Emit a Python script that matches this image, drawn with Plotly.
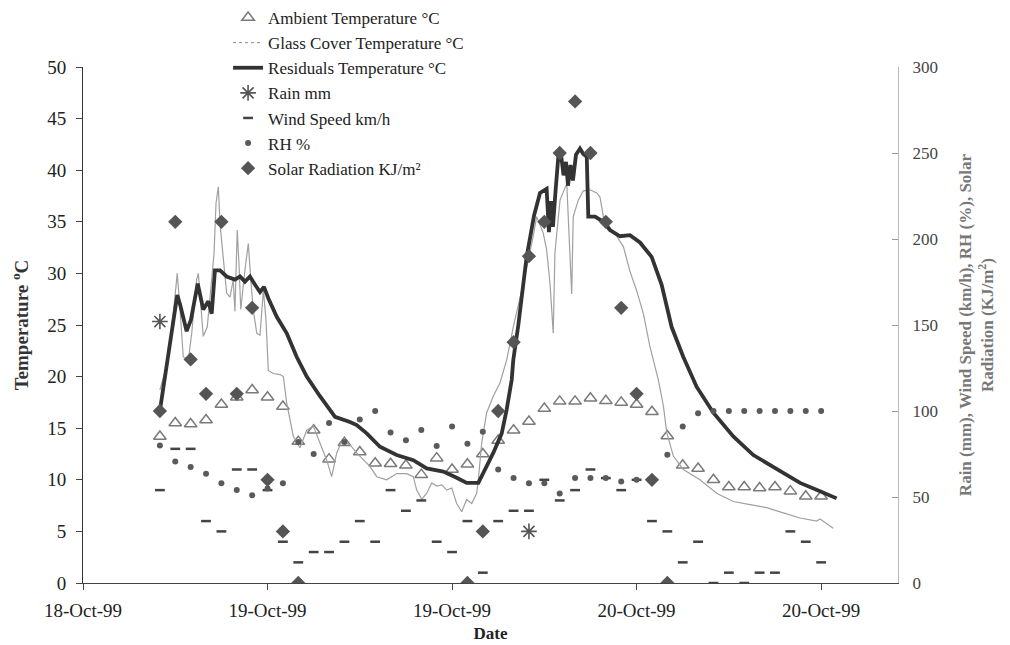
import pandas as pd
import plotly.graph_objects as go

# ---------------- data ----------------
# hourly observations, 18-Oct-99 17:00 .. 20-Oct-99 12:00
obs_start = "1999-10-18 17:00"
n_obs = 44
ambient_temp = [14.2, 15.5, 15.4, 15.8, 17.3, 18.0, 18.7, 18.0, 17.1, 13.7,
                14.8, 12.0, 13.6, 12.7, 11.6, 11.55, 11.4, 10.5, 12.1, 11.0,
                11.5, 12.5, 13.8, 14.8, 15.65, 16.9, 17.6, 17.6, 17.9, 17.65,
                17.5, 17.3, 16.6, 14.25, 11.4, 11.1, 10.0, 9.3, 9.3, 9.2,
                9.3, 8.9, 8.4, 8.4]
rain_mm = [152, None, None, None, None, None, None, None, None, None,
           None, None, None, None, None, None, None, None, None, None,
           None, None, None, None, 30, None, None, None, None, None,
           None, None, None, None, None, None, None, None, None, None,
           None, None, None, None]
wind_kmh = [54, 78, 78, 36, 30, 66, 66, 54, 24, 12,
            18, 18, 24, 36, 24, 54, 42, 48, 24, 18,
            36, 6, 36, 42, 42, 60, 48, 54, 66, 61,
            54, 60, 36, 30, 12, 24, 0, 6, 0, 6,
            6, 30, 24, 12]
rh_pct = [80, 70.6, 67.4, 63.5, 58, 54, 51, 55, 58, 82,
          75, 93, 82, 95, 100, 87.5, 83, 89, 79.7, 91,
          81, 88, 66, 61, 58, 58, 52, 61, 61, 61,
          59, 60, 60, 74.5, 91, 98.7, 100, 100, 100, 100,
          100, 100, 100, 100]
solar_kj = [100, 210, 130, 110, 210, 110, 160, 60, 30, 0,
            None, None, None, None, None, None, None, None, None, None,
            0, 30, 100, 140, 190, 210, 250, 280, 250, 210,
            160, 110, 60, 0, None, None, None, None, None, None,
            None, None, None, None]

# continuous records: hours since 18-Oct-99 00:00
glass_hours = [17.0, 17.44, 17.87, 18.13, 18.31, 18.52, 18.85, 19.07, 19.39, 19.50,
               19.72, 19.82, 20.08, 20.26, 20.52, 20.65, 20.80, 20.91, 21.12, 21.34,
               21.56, 21.77, 21.88, 22.03, 22.14, 22.26, 22.53, 22.75, 22.91, 23.07,
               23.30, 23.51, 23.73, 23.90, 24.05, 24.38, 24.81, 25.03, 25.25, 25.68,
               26.11, 26.55, 26.98, 27.41, 27.85, 28.17, 28.50, 28.82, 29.36, 29.80,
               30.23, 30.66, 31.10, 31.75, 32.40, 33.05, 33.48, 33.70, 34.03, 34.35,
               34.68, 35.00, 35.33, 35.65, 35.98, 36.30, 36.63, 36.95, 37.28, 37.60,
               37.71, 37.93, 38.25, 38.68, 39.12, 39.55, 39.98, 40.63, 41.28, 41.50,
               41.93, 42.15, 42.37, 42.58, 42.69, 43.02, 43.46, 43.67, 43.78, 43.88,
               44.21, 44.53, 44.97, 45.41, 45.62, 45.84, 46.27, 46.71, 47.14, 47.57,
               48.01, 48.44, 48.87, 49.41, 49.74, 49.96, 50.39, 51.04, 52.12, 53.21,
               54.29, 55.38, 56.46, 57.54, 58.63, 59.71, 59.93, 60.79]
glass_temp = [18.7, 21.0, 26.1, 30.0, 26.5, 21.9, 21.6, 24.2, 29.4, 30.0,
              25.8, 23.9, 24.8, 27.7, 31.9, 36.8, 38.4, 34.8, 31.3, 28.1,
              27.7, 29.4, 26.3, 34.2, 31.0, 26.5, 30.3, 32.9, 29.4, 26.5,
              24.2, 24.0, 28.4, 25.5, 20.6, 20.3, 20.2, 20.0, 17.4, 14.2,
              13.1, 14.8, 15.2, 13.6, 11.9, 10.3, 12.6, 13.7, 13.4, 12.6,
              11.9, 11.3, 10.3, 10.0, 10.6, 10.6, 10.3, 9.0, 8.1, 8.7,
              9.7, 9.4, 9.5, 9.0, 9.2, 7.7, 6.9, 8.1, 7.7, 8.7,
              10.0, 13.6, 16.5, 18.1, 19.4, 21.6, 24.8, 29.0, 33.6, 35.5,
              33.9, 32.3, 29.0, 24.2, 32.0, 37.1, 38.7, 32.3, 28.0, 35.5,
              37.1, 38.0, 38.1, 37.8, 37.4, 35.5, 34.4, 33.6, 32.6, 30.2,
              28.3, 26.1, 22.9, 19.7, 17.2, 14.6, 12.3, 11.0, 10.0, 8.7,
              7.9, 7.6, 7.3, 6.8, 6.3, 6.0, 6.2, 5.3]
resid_hours = [17.0, 17.22, 17.66, 17.98, 18.13, 18.31, 18.74, 19.02, 19.46, 19.82,
               20.15, 20.37, 20.58, 20.91, 21.34, 21.88, 22.21, 22.53, 22.86, 23.19,
               23.51, 23.77, 24.05, 24.60, 25.25, 25.90, 26.55, 27.41, 28.39, 29.36,
               29.80, 30.45, 31.31, 32.40, 33.48, 34.35, 35.43, 36.30, 36.95, 37.71,
               38.14, 38.68, 39.23, 39.55, 39.88, 39.98, 40.31, 40.85, 41.33, 41.72,
               42.15, 42.30, 42.43, 42.56, 42.73, 42.91, 43.08, 43.25, 43.41, 43.54,
               43.70, 43.86, 44.06, 44.32, 44.52, 44.76, 44.86, 45.30, 45.84, 46.27,
               46.92, 47.57, 48.22, 48.98, 49.63, 50.28, 51.04, 51.91, 52.99, 54.29,
               55.59, 57.11, 58.63, 59.93, 61.01]
resid_temp = [16.7, 19.0, 23.2, 26.5, 27.9, 27.0, 24.4, 25.5, 29.0, 26.5,
              27.3, 26.1, 30.3, 30.3, 29.7, 29.4, 29.7, 29.2, 29.7, 28.9,
              28.2, 28.7, 27.6, 25.8, 24.2, 21.9, 20.0, 18.1, 16.1, 15.6,
              15.3, 14.5, 13.2, 12.4, 11.9, 11.1, 10.8, 10.2, 9.7, 9.7,
              11.0, 12.6, 14.5, 16.8, 19.7, 21.6, 25.0, 31.6, 35.6, 37.8,
              38.2, 34.0, 37.0, 34.5, 38.0, 41.3, 41.6, 39.5, 40.8, 38.5,
              40.5, 39.0, 41.5, 42.1, 41.6, 41.3, 35.5, 35.5, 35.0, 34.2,
              33.6, 33.7, 33.0, 31.6, 28.9, 24.8, 21.9, 19.0, 16.5, 14.2,
              12.4, 11.0, 9.7, 8.9, 8.2]

tick_times = ["1999-10-18 12:00", "1999-10-19 00:00", "1999-10-19 12:00",
              "1999-10-20 00:00", "1999-10-20 12:00"]
tick_labels = ["18-Oct-99", "19-Oct-99", "19-Oct-99", "20-Oct-99", "20-Oct-99"]

# ---------------- figure ----------------
day0 = pd.Timestamp("1999-10-18 00:00")
obs_t = pd.date_range(obs_start, periods=n_obs, freq="h")
glass_t = [day0 + pd.Timedelta(hours=h) for h in glass_hours]
resid_t = [day0 + pd.Timedelta(hours=h) for h in resid_hours]

FONT = "Liberation Serif, Times New Roman, serif"
# the page body adds an 8px offset, so the figure is drawn 8px smaller
W, H = 1002, 637
M_L, M_R, M_T, M_B = 75, 112, 4, 62
PLOT_TOP = 59
paper_h = H - M_T - M_B
dom_top = (H - M_B - PLOT_TOP) / paper_h

fig = go.Figure()

fig.add_trace(go.Scatter(
    x=obs_t, y=ambient_temp, mode="markers", name="Ambient Temperature °C",
    marker=dict(symbol="triangle-up-open", size=11, color="#7a7a7a",
                line=dict(width=1.5, color="#7a7a7a"))))
fig.add_trace(go.Scatter(
    x=[None], y=[None], mode="lines", name="Glass Cover Temperature °C",
    line=dict(color="#8a8a8a", width=1, dash="dot")))
fig.add_trace(go.Scatter(
    x=glass_t, y=glass_temp, mode="lines", showlegend=False,
    name="Glass Cover Temperature °C",
    line=dict(color="#a0a0a0", width=1.2)))
fig.add_trace(go.Scatter(
    x=resid_t, y=resid_temp, mode="lines", name="Residuals Temperature °C",
    line=dict(color="#333333", width=3.8)))
fig.add_trace(go.Scatter(
    x=obs_t, y=rain_mm, mode="markers", name="Rain mm", yaxis="y2",
    marker=dict(symbol="asterisk-open", size=13, color="#555555",
                line=dict(width=1.6, color="#555555"))))
fig.add_trace(go.Scatter(
    x=obs_t, y=wind_kmh, mode="markers", name="Wind Speed km/h", yaxis="y2",
    marker=dict(symbol="line-ew-open", size=7, color="#444444",
                line=dict(width=2.5, color="#444444"))))
fig.add_trace(go.Scatter(
    x=obs_t, y=rh_pct, mode="markers", name="RH %", yaxis="y2",
    marker=dict(symbol="circle", size=6, color="#5a5a5a")))
fig.add_trace(go.Scatter(
    x=obs_t, y=solar_kj, mode="markers", name="Solar Radiation KJ/m²", yaxis="y2",
    marker=dict(symbol="diamond", size=11, color="#555555")))

fig.update_layout(
    width=W, height=H,
    margin=dict(l=M_L, r=M_R, t=M_T, b=M_B, autoexpand=False),
    paper_bgcolor="white", plot_bgcolor="white",
    font=dict(family=FONT, color="#222222", size=18),
    showlegend=True,
    legend=dict(x=0.178, y=1.0 + 12 / paper_h, xanchor="left", yanchor="top",
                bgcolor="rgba(0,0,0,0)", font=dict(family=FONT, size=17, color="#222222"),
                tracegroupgap=0),
    xaxis=dict(
        type="date", range=["1999-10-18 12:00", "1999-10-20 17:00"],
        tickvals=tick_times, ticktext=tick_labels,
        ticks="outside", ticklen=6, tickcolor="#444444",
        showline=True, linecolor="#444444", linewidth=1,
        showgrid=False, zeroline=False, automargin=False,
        ticklabelstandoff=4,
        tickfont=dict(family=FONT, size=19, color="#222222"),
        title=dict(text="<b>Date</b>", font=dict(family=FONT, size=17, color="#222222"),
                   standoff=7),
    ),
    yaxis=dict(
        domain=[0, dom_top],
        range=[0, 50], dtick=5, tick0=0,
        ticks="outside", ticklen=6, tickcolor="#444444",
        showline=True, linecolor="#333333", linewidth=1,
        showgrid=False, zeroline=False, automargin=False,
        ticklabelstandoff=6,
        tickfont=dict(family=FONT, size=19, color="#222222"),
        title=dict(text="<b>Temperature <sup>o</sup>C</b>",
                   font=dict(family=FONT, size=19, color="#333333"), standoff=14),
    ),
    yaxis2=dict(
        range=[0, 300], dtick=50, tick0=0, overlaying="y", side="right",
        ticks="inside", ticklen=6, tickcolor="#999999",
        showline=True, linecolor="#bbbbbb", linewidth=1,
        showgrid=False, zeroline=False, automargin=False,
        ticklabelstandoff=10,
        tickfont=dict(family=FONT, size=17, color="#444444"),
        title=dict(text="<b>Rain (mm), Wind Speed (km/h), RH (%), Solar<br>Radiation (KJ/m<sup>2</sup>)</b>",
                   font=dict(family=FONT, size=17, color="#777777"), standoff=22),
    ),
)

fig.write_html("out.html")
